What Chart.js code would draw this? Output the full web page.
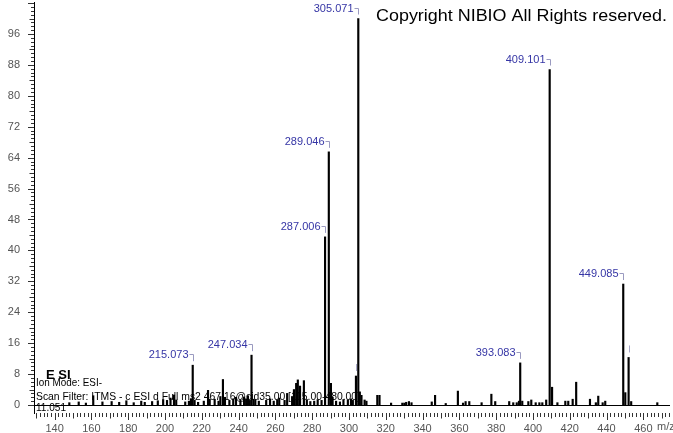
<!DOCTYPE html>
<html><head><meta charset="utf-8">
<script src="https://cdn.jsdelivr.net/npm/chart.js@4/dist/chart.umd.min.js"></script>
<style>html,body{margin:0;padding:0;background:#fff;}canvas{display:block;}</style>
</head><body>
<canvas id="c" width="673" height="433"></canvas>
<script>
// ---- data (m/z, relative intensity) ----
const mzValues = [148.0,153.1,157.0,161.0,166.0,171.0,175.1,179.0,183.0,187.1,189.0,193.0,196.1,199.0,201.1,203.0,204.9,206.1,211.0,213.0,214.1,215.073,216.1,218.0,221.1,223.4,224.3,227.0,229.1,230.1,231.5,232.6,235.0,237.1,238.6,241.0,243.0,244.1,245.1,246.1,247.034,248.1,249.1,251.0,255.0,257.1,259.1,261.0,262.1,265.0,266.4,269.1,270.1,271.3,272.2,273.4,275.5,277.1,279.0,281.1,283.0,285.1,287.006,289.046,290.2,291.1,293.0,295.1,297.0,299.4,301.1,302.1,303.8,305.071,305.9,306.8,308.5,309.5,315.4,316.6,322.9,329.0,330.1,331.1,332.6,334.0,345.0,346.8,352.6,359.2,362.0,363.4,365.4,372.1,377.4,379.5,387.1,389.3,391.2,392.4,393.083,394.2,397.5,399.1,401.5,403.5,405.1,407.2,409.101,410.4,413.3,417.6,419.2,421.6,423.5,431.0,434.2,435.5,437.9,439.3,449.085,450.2,452.0,453.4,467.6];
const intensities = [0.6,0.8,0.5,2.4,0.8,0.9,0.7,1.1,0.6,1.0,0.7,0.9,1.1,1.4,1.2,1.8,2.6,1.3,0.8,1.0,1.6,10.3,1.2,0.7,1.0,3.8,1.5,1.5,1.0,2.2,6.6,2.0,1.2,1.6,2.0,1.4,2.1,1.6,2.4,1.2,12.9,1.5,1.4,1.0,1.2,1.6,1.0,1.3,1.8,1.2,3.0,2.2,4.0,5.6,6.5,4.9,6.3,1.4,0.9,1.0,1.4,1.2,43.5,65.5,5.6,2.0,1.0,0.8,1.4,1.3,1.6,1.2,7.5,100,3.4,2.5,1.3,1.0,2.5,2.5,0.5,0.5,0.5,0.7,0.9,0.6,0.8,2.5,0.4,3.6,0.5,0.9,0.9,0.6,2.8,0.9,0.9,0.6,0.6,1.0,10.9,1.0,0.9,1.3,0.6,0.6,0.6,1.3,86.8,4.6,0.6,1.0,1.0,1.5,5.9,1.5,0.6,2.3,0.6,1.0,31.3,3.2,12.3,0.9,0.6];
const labelledMz = [215.073,247.034,287.006,289.046,305.071,393.083,409.101,449.085];
const peakLabels = ["215.073","247.034","287.006","289.046","305.071","393.083","409.101","449.085"];
const markedMz = [303.8,452.0];
const xTickValues = [140,160,180,200,220,240,260,280,300,320,340,360,380,400,420,440,460];
const yTickValues = [0,8,16,24,32,40,48,56,64,72,80,88,96];
const xUnit = "m/z";
const copyrightText = "Copyright NIBIO All Rights reserved.";
const modeTitle = "E SI";
const infoLines = ["Ion Mode: ESI-", "Scan Filter: ITMS - c ESI d Full ms2 467.16@cid35.00 [115.00-480.00]", "11.051"];

const FONT = "'Liberation Sans', Arial, sans-serif";

function fitText(ctx, text, x, y, width, font) {
  ctx.save();
  ctx.font = font;
  const w = ctx.measureText(text).width;
  ctx.translate(x, y);
  ctx.scale(width / w, 1);
  ctx.textAlign = 'left';
  ctx.textBaseline = 'alphabetic';
  ctx.fillText(text, 0, 0);
  ctx.restore();
}

const decor = {
  id: 'decor',
  afterDraw(chart) {
    const ctx = chart.ctx, xs = chart.scales.x, ys = chart.scales.y, ca = chart.chartArea;
    ctx.save();
    // baseline at intensity 0
    const y0 = Math.round(ys.getPixelForValue(0)) + 0.5;
    ctx.strokeStyle = '#000'; ctx.lineWidth = 1;
    ctx.beginPath(); ctx.moveTo(ca.left, y0); ctx.lineTo(ca.right, y0); ctx.stroke();
    // y tick marks (minor every 1, medium every 4, major every 8)
    ctx.strokeStyle = '#333';
    ctx.beginPath();
    for (let v = 0; v <= 104; v++) {
      const py = Math.round(ys.getPixelForValue(v)) + 0.5;
      const len = v % 8 === 0 ? 6 : (v % 4 === 0 ? 4.5 : 3);
      ctx.moveTo(ca.left - len, py); ctx.lineTo(ca.left, py);
    }
    ctx.stroke();
    // x tick marks (minor every 2, medium every 10, major every 20)
    ctx.beginPath();
    for (let v = 130; v <= 474; v += 2) {
      const px = Math.round(xs.getPixelForValue(v)) + 0.5;
      if (px < ca.left || px > ca.right) continue;
      const len = v % 20 === 0 ? 7 : (v % 10 === 0 ? 5.5 : 4);
      ctx.moveTo(px, ca.bottom); ctx.lineTo(px, ca.bottom + len);
    }
    ctx.stroke();
    // unit
    ctx.fillStyle = '#555'; ctx.font = '11px ' + FONT;
    ctx.textAlign = 'left'; ctx.textBaseline = 'middle';
    ctx.fillText(xUnit, 657, 427);
    // peak annotations
    ctx.font = '11px ' + FONT;
    labelledMz.forEach((m, i) => {
      const idx = mzValues.indexOf(m);
      const x = Math.round(xs.getPixelForValue(m)) + 0.5;
      const top = ys.getPixelForValue(intensities[idx]);
      const ly = Math.round(top - 11) + 0.5;
      ctx.fillStyle = '#3535a5'; ctx.textAlign = 'right'; ctx.textBaseline = 'middle';
      ctx.fillText(peakLabels[i], x - 5, ly);
      ctx.strokeStyle = '#9a9ac0';
      ctx.beginPath(); ctx.moveTo(x - 4, ly); ctx.lineTo(x, ly); ctx.lineTo(x, top - 4); ctx.stroke();
    });
    markedMz.forEach(m => {
      const idx = mzValues.indexOf(m);
      const x = Math.round(xs.getPixelForValue(m)) + 0.5;
      const top = ys.getPixelForValue(intensities[idx]);
      ctx.strokeStyle = '#a8a8c8';
      ctx.beginPath(); ctx.moveTo(x, top - 12); ctx.lineTo(x, top - 5); ctx.stroke();
    });
    // copyright
    ctx.fillStyle = '#000';
    fitText(ctx, copyrightText, 376, 21, 291, '17px ' + FONT);
    // scan info
    ctx.font = 'bold 13px ' + FONT; ctx.textAlign = 'left'; ctx.textBaseline = 'alphabetic';
    ctx.fillText(modeTitle, 46, 379);
    fitText(ctx, infoLines[0], 36, 386, 66, '11px ' + FONT);
    fitText(ctx, infoLines[1], 36, 399.5, 324, '11px ' + FONT);
    fitText(ctx, infoLines[2], 36, 410.5, 30, '11px ' + FONT);
    ctx.restore();
  }
};

new Chart(document.getElementById('c'), {
  type: 'bar',
  data: {
    datasets: [{
      data: mzValues.map((m, i) => ({ x: m, y: intensities[i] })),
      backgroundColor: '#000',
      borderWidth: 0,
      barThickness: 1.5
    }]
  },
  options: {
    responsive: false,
    animation: false,
    devicePixelRatio: 1,
    layout: { padding: { top: 2, right: 3, left: 0, bottom: 0 } },
    plugins: { legend: { display: false }, tooltip: { enabled: false } },
    scales: {
      x: {
        type: 'linear', offset: false, min: 128.8, max: 474.5,
        grid: { display: false, offset: false, drawTicks: false },
        border: { display: false },
        afterBuildTicks: s => { s.ticks = xTickValues.map(v => ({ value: v })); },
        afterFit: s => { s.height = 20; s.paddingLeft = 0; s.paddingRight = 0; },
        ticks: { autoSkip: false, maxRotation: 0, padding: 9, color: '#555', font: { size: 11, family: FONT } }
      },
      y: {
        min: -2.07, max: 104.27,
        grid: { display: false, drawTicks: false },
        border: { display: true, color: '#000', width: 1 },
        afterBuildTicks: s => { s.ticks = yTickValues.map(v => ({ value: v })); },
        afterFit: s => { s.width = 34; s.paddingTop = 0; s.paddingBottom = 0; },
        ticks: { padding: 14, color: '#555', font: { size: 11, family: FONT } }
      }
    }
  },
  plugins: [decor]
});
</script>
</body></html>
